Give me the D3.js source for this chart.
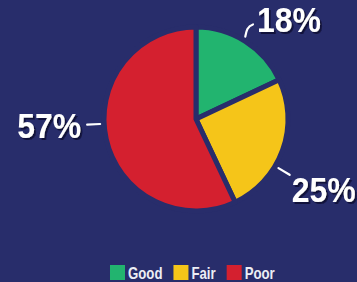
<!DOCTYPE html>
<html>
<head>
<meta charset="utf-8">
<script src="https://cdn.jsdelivr.net/npm/d3@7"></script>
<style>
  html, body { margin: 0; padding: 0; background: #282d6b; }
  svg { display: block; }
  text { font-family: "Liberation Sans", Arial, sans-serif; font-weight: bold; }
</style>
</head>
<body>
<script>
// chart data
var categories = ["Good", "Fair", "Poor"];
var values = [18, 25, 57];
var colors = ["#22b46f", "#f5c519", "#d4202f"];

var width = 357, height = 282;
var bg = "#282d6b";
var cx = 196, cy = 119, radius = 92;
var squeeze = 0.9;   // the original type is a condensed face

var svg = d3.select("body").append("svg")
    .attr("width", width)
    .attr("height", height);

svg.append("defs").append("filter")
    .attr("id", "shadow")
    .attr("x", "-10%").attr("y", "-10%")
    .attr("width", "130%").attr("height", "130%")
  .append("feDropShadow")
    .attr("dx", 2).attr("dy", 2)
    .attr("stdDeviation", 0.6)
    .attr("flood-color", "#0e1035")
    .attr("flood-opacity", 0.9);

svg.append("rect")
    .attr("width", width)
    .attr("height", height)
    .attr("fill", bg);

var pie = d3.pie()
    .sort(null)
    .value(function(d){ return d.value });

var arcs = pie(categories.map(function(c, i){ return {name: c, value: values[i]} }));

var arc = d3.arc()
    .innerRadius(0)
    .outerRadius(radius);

var colorScale = d3.scaleOrdinal()
    .domain(categories)
    .range(colors);

var g = svg.append("g")
    .attr("transform", "translate(" + cx + "," + cy + ")");

g.selectAll("path")
    .data(arcs)
    .enter().append("path")
    .attr("d", arc)
    .attr("fill", function(d){ return colorScale(d.data.name) })
    .attr("stroke", bg)
    .attr("stroke-width", 5)
    .attr("stroke-linejoin", "round");

// leader lines + labels, nudged a bit off the mid angle like the original
var nudge = { Good: -1.5, Fair: 11, Poor: 9.6 };

function polar(r, a) { return [Math.sin(a) * r, -Math.cos(a) * r]; }

arcs.forEach(function(d) {
    var a = (d.startAngle + d.endAngle) / 2 + nudge[d.data.name] * Math.PI / 180;
    var p0 = polar(96, a), p1 = polar(109, a);
    var label = d.data.value + "%";
    var tx, ty, anchor;

    var path;
    if (d.data.name == "Good") {
        // little wavy tick
        path = "M" + p0 + " C" + [p0[0] + 1, p0[1] - 5] + " " + [p1[0] - 5, p1[1] + 1] + " " + [p1[0] + 1, p1[1] - 1];
        tx = p1[0] + 5; ty = p1[1] + 7; anchor = "start";
    } else if (d.data.name == "Fair") {
        path = "M" + p0 + " L" + p1;
        tx = p1[0] + 2; ty = p1[1] + 27; anchor = "start";
    } else {
        path = "M" + p0 + " L" + p1;
        tx = p1[0] - 6; ty = p1[1] + 13; anchor = "end";
    }

    g.append("path")
        .attr("d", path)
        .attr("fill", "none")
        .attr("stroke", "#ffffff")
        .attr("stroke-width", 2.2)
        .attr("stroke-linecap", "round");

    g.append("text")
        .attr("transform", "translate(" + tx + "," + ty + ") scale(" + squeeze + ",1)")
        .attr("text-anchor", anchor)
        .attr("font-size", 35.5)
        .attr("fill", "#ffffff")
        .attr("filter", "url(#shadow)")
        .text(label);
});

// legend, laid out left to right from the text widths
var legend = svg.append("g")
    .attr("transform", "translate(110,265)");

var lx = 0;
categories.forEach(function(c) {
    var item = legend.append("g")
        .attr("transform", "translate(" + lx + ",0)");
    item.append("rect")
        .attr("width", 15)
        .attr("height", 15)
        .attr("fill", colorScale(c));
    var t = item.append("text")
        .attr("transform", "translate(18,14) scale(0.8,1)")
        .attr("font-size", 16.5)
        .attr("fill", "#eceef5")
        .text(c);
    lx += 18 + t.node().getComputedTextLength() * 0.8 + 11;
});
</script>
</body>
</html>
